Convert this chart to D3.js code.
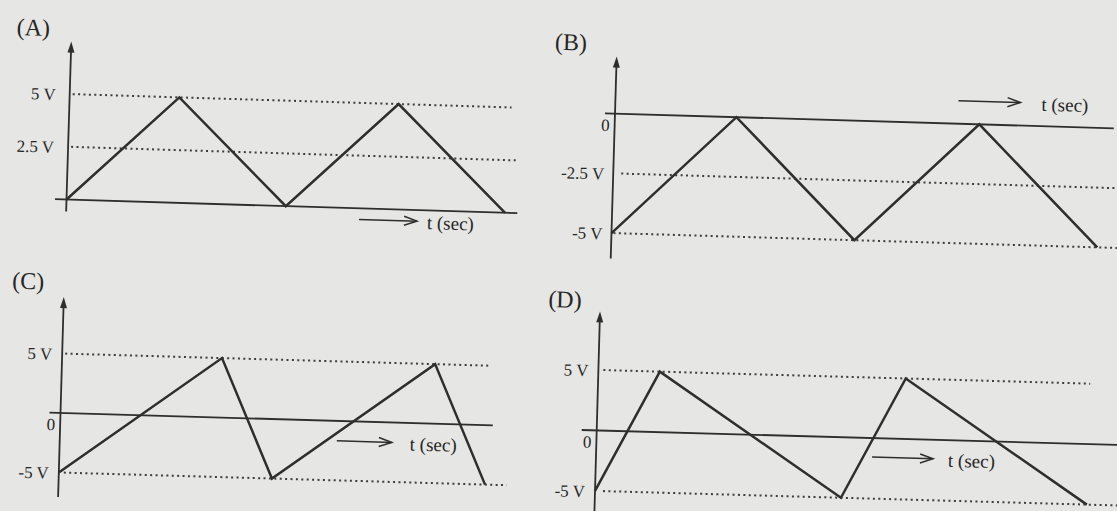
<!DOCTYPE html>
<html>
<head>
<meta charset="utf-8">
<script src="https://cdn.jsdelivr.net/npm/d3@7/dist/d3.min.js"></script>
<style>
  body { margin: 0; background: #e6e6e4; }
  svg { display: block; }
  text { font-family: "Liberation Serif", "DejaVu Serif", serif; fill: #262626; }
</style>
</head>
<body>
<div id="chart"></div>
<script>
// corners of each waveform: time (grid units) and voltage (V)
const timesA = [0, 1, 2, 3, 4];
const voltsA = [0, 5, 0, 5, 0];
const timesB = [0, 1, 2, 3, 4];
const voltsB = [-5, 0, -5, 0, -5];
const timesC = [0, 3, 4, 7, 8];
const voltsC = [-5, 5, -5, 5, -5];
const timesD = [0, 1, 4, 5, 8];
const voltsD = [-5, 5, -5, 5, -5];

// dotted reference levels and their tick labels
const levelsA = [5, 2.5];
const levelLabelsA = ["5 V", "2.5 V"];
const levelsB = [-2.5, -5];
const levelLabelsB = ["-2.5 V", "-5 V"];
const levelsC = [5, -5];
const levelLabelsC = ["5 V", "-5 V"];
const levelsD = [5, -5];
const levelLabelsD = ["5 V", "-5 V"];

const panelNames = ["(A)", "(B)", "(C)", "(D)"];
const timeLabel = "t (sec)";
const zeroLabel = "0";

const width = 1117, height = 511;
const ink = "#2e2e2e";

let svg = d3.select("#chart").append("svg")
    .attr("width", width)
    .attr("height", height);

class WavePanel {
    constructor(svg, opts) {
        this.svg = svg;
        this.opts = opts;
        this.initVis();
    }

    initVis() {
        let vis = this;
        let o = vis.opts;

        // the scan is a little tilted, so every panel is rotated a bit
        vis.g = vis.svg.append("g")
            .attr("transform", `translate(${o.origin[0]},${o.origin[1]}) rotate(${o.angle})`);

        vis.x = d3.scaleLinear().domain([0, 1]).range([0, o.tUnit]);
        vis.y = d3.scaleLinear().domain([0, 1]).range([0, -o.vUnit]);

        // dotted levels
        o.levels.forEach((lv, i) => {
            vis.g.append("line")
                .attr("x1", o.dotSpan[i][0]).attr("x2", o.dotSpan[i][1])
                .attr("y1", vis.y(lv)).attr("y2", vis.y(lv))
                .attr("stroke", "#3c3c3c")
                .attr("stroke-width", 2)
                .attr("stroke-dasharray", "2 3.4");

            vis.g.append("text")
                .attr("x", o.labelX)
                .attr("y", vis.y(lv) + 1)
                .attr("text-anchor", "end")
                .attr("dominant-baseline", "central")
                .style("font-size", "17px")
                .text(o.levelLabels[i]);
        });

        // time axis
        vis.g.append("line")
            .attr("x1", o.xSpan[0]).attr("x2", o.xSpan[1])
            .attr("y1", vis.y(0)).attr("y2", vis.y(0))
            .attr("stroke", ink)
            .attr("stroke-width", 1.8);

        // vertical axis with arrow head
        vis.g.append("line")
            .attr("x1", 0).attr("x2", 0)
            .attr("y1", o.ySpan[0] + 8).attr("y2", o.ySpan[1])
            .attr("stroke", ink)
            .attr("stroke-width", 1.8);
        vis.g.append("path")
            .attr("d", `M0,${o.ySpan[0]} L-3.5,${o.ySpan[0] + 11} L3.5,${o.ySpan[0] + 11} Z`)
            .attr("fill", ink);

        if (o.showZero) {
            vis.g.append("text")
                .attr("x", -5)
                .attr("y", 12)
                .attr("text-anchor", "end")
                .attr("dominant-baseline", "central")
                .style("font-size", "17px")
                .text(zeroLabel);
        }

        // the waveform itself
        let pts = o.times.map((t, i) => [vis.x(t), vis.y(o.volts[i])]);
        vis.g.append("path")
            .attr("d", d3.line()(pts))
            .attr("fill", "none")
            .attr("stroke", ink)
            .attr("stroke-width", 2.5)
            .attr("stroke-linejoin", "miter");

        // "---> t (sec)"
        let a = o.arrow;
        vis.g.append("line")
            .attr("x1", a[0]).attr("x2", a[1])
            .attr("y1", a[2]).attr("y2", a[2])
            .attr("stroke", ink)
            .attr("stroke-width", 1.5);
        vis.g.append("path")
            .attr("d", `M${a[1] - 13},${a[2] - 4.5} L${a[1]},${a[2]} L${a[1] - 13},${a[2] + 4.5}`)
            .attr("fill", "none")
            .attr("stroke", ink)
            .attr("stroke-width", 1.5);
        vis.g.append("text")
            .attr("x", a[3])
            .attr("y", a[2] + 1)
            .attr("dominant-baseline", "central")
            .style("font-size", "19px")
            .text(timeLabel);

        // panel letter
        vis.g.append("text")
            .attr("x", o.name[0])
            .attr("y", o.name[1])
            .style("font-size", "24px")
            .text(o.name[2]);
    }
}

new WavePanel(svg, {
    origin: [66.5, 199.5], angle: 1.74, tUnit: 109.7, vUnit: 21.1,
    times: timesA, volts: voltsA, levels: levelsA, levelLabels: levelLabelsA,
    dotSpan: [[3, 442], [3, 450]], xSpan: [-11.5, 451], ySpan: [-158, 12],
    labelX: -14, showZero: false,
    arrow: [293, 351, 11, 361], name: [-55, -163, panelNames[0]]
});

new WavePanel(svg, {
    origin: [615, 113.6], angle: 1.69, tUnit: 121.5, vUnit: 23.9,
    times: timesB, volts: voltsB, levels: levelsB, levelLabels: levelLabelsB,
    dotSpan: [[8, 506], [2, 508]], xSpan: [-10, 499], ySpan: [-57, 145],
    labelX: -9, showZero: true,
    arrow: [343, 405, -23, 426], name: [-62, -62, panelNames[1]]
});

new WavePanel(svg, {
    origin: [60.5, 413], angle: 1.63, tUnit: 53.3, vUnit: 11.9,
    times: timesC, volts: voltsC, levels: levelsC, levelLabels: levelLabelsC,
    dotSpan: [[3, 427], [5, 448]], xSpan: [-11, 432.5], ySpan: [-116, 84],
    labelX: -10, showZero: true,
    arrow: [277, 332, 20, 350], name: [-52, -123, panelNames[2]]
});

new WavePanel(svg, {
    origin: [596.7, 430.4], angle: 1.6, tUnit: 61.5, vUnit: 12.1,
    times: timesD, volts: voltsD, levels: levelsD, levelLabels: levelLabelsD,
    dotSpan: [[5, 492], [8, 524]], xSpan: [-15, 521], ySpan: [-119, 92],
    labelX: -10, showZero: true,
    arrow: [276, 337, 19, 352], name: [-52, -122, panelNames[3]]
});
</script>
</body>
</html>
